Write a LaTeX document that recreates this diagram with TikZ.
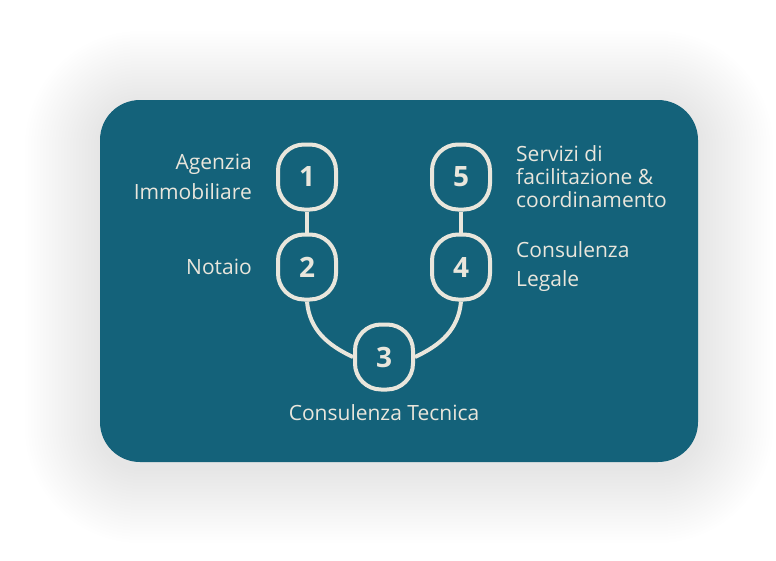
\documentclass[tikz,border=0pt]{standalone}
\usepackage{fontspec}
\setmainfont{Open Sans}
\usepackage{tikz}
\usetikzlibrary{positioning}
\definecolor{cardteal}{RGB}{20,98,122}
\definecolor{cream}{RGB}{233,230,220}
\tikzset{
  num/.style={draw=cream, line width=4pt, rounded corners=26pt, fill=cardteal, text=cream,
              minimum width=58pt, minimum height=65pt, font=\fontsize{28}{28}\selectfont\bfseries},
  lbl/.style={text=cream, inner sep=0pt, font=\fontsize{21}{23}\selectfont},
  link/.style={draw=cream, line width=4pt}
}

\begin{document}
\begin{tikzpicture}[x=1pt, y=-1pt]
\useasboundingbox (0,0) rectangle (776,560);
\fill[white] (0,0) rectangle (776,560);
% soft shadow round the card
\foreach \s in {3,6,...,75}
  \fill[black, opacity=0.0035, rounded corners=40pt+\s pt] (100-\s,106-\s) rectangle (698+\s,468+\s);
\fill[cardteal, rounded corners=40pt] (100,100) rectangle (698,462);

\node[num] (n1) at (307,177) {1};
\node[num] (n2) at (307,267) {2};
\node[num] (n3) at (384,357) {3};
\node[num] (n4) at (461,267) {4};
\node[num] (n5) at (461,177) {5};
\draw[link] (n1) -- (n2); \draw[link] (n5) -- (n4);
\draw[link] (n2.south) to[out=-85, in=155] (n3.west);
\draw[link] (n4.south) to[out=-95, in=25] (n3.east);

\node[lbl, align=right, font=\fontsize{21}{30}\selectfont, left=24pt of n1] (l1) {Agenzia\\Immobiliare};
\node[lbl, align=right, left=24pt of n2] (l2) {Notaio};
\node[lbl, below=13pt of n3] (l3) {Consulenza Tecnica};
\node[lbl, align=left, font=\fontsize{21}{29}\selectfont, right=24pt of n4] (l4) {Consulenza\\Legale};
\node[lbl, align=left, right=24pt of n5] (l5) {Servizi di\\facilitazione \&\\coordinamento};
\end{tikzpicture}
\end{document}
